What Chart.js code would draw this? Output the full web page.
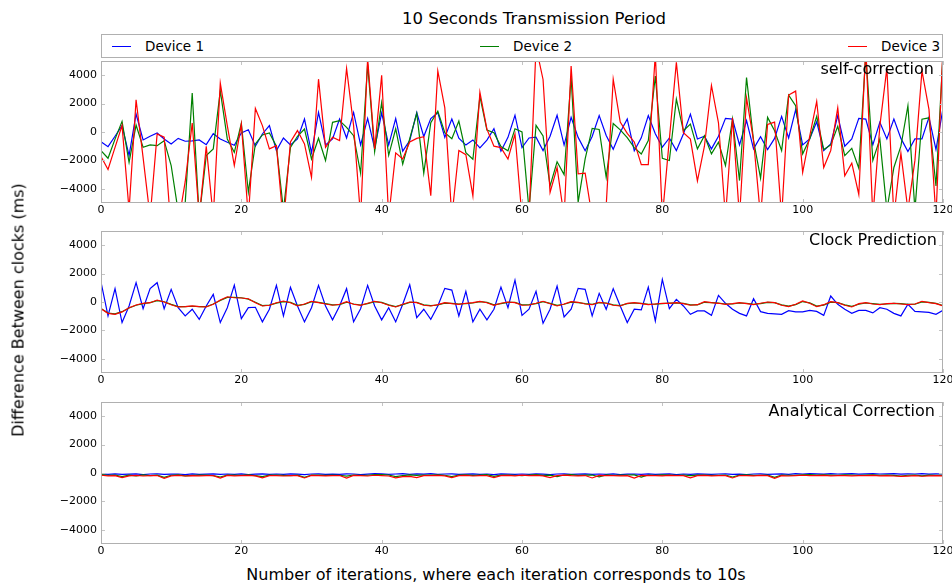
<!DOCTYPE html>
<html>
<head>
<meta charset="utf-8">
<script src="https://cdn.jsdelivr.net/npm/chart.js@4.4.1/dist/chart.umd.min.js"></script>
<style>
  body { margin: 0; background: #fff; }
  #page { position: relative; width: 952px; height: 586px; font-family: "DejaVu Sans", sans-serif; color: #000; overflow: hidden; }
  canvas { position: absolute; left: 0; }
  .txt { position: absolute; white-space: nowrap; }
  #title { left: 0; width: 1068px; text-align: center; top: 9px; font-size: 16.5px; }
  #legend { position: absolute; left: 101px; top: 34px; width: 840px; height: 22px; border: 1px solid #b0b0b0; }
  .item { position: absolute; top: 3px; font-size: 13.5px; line-height: 16px; }
  .item i { display: inline-block; width: 19px; height: 0; border-top: 1.2px solid; vertical-align: middle; margin-right: 14px; position: relative; top: -1px; }
  .panel-label { position: absolute; font-size: 16px; line-height: 18px; text-align: right; }
  #ylab { font-size: 16px; left: 18px; top: 310px; transform: translate(-50%, -50%) rotate(-90deg); }
  #xlab { font-size: 16px; left: 0; width: 992px; text-align: center; top: 565px; }
</style>
</head>
<body>
<div id="page">
  <div class="txt" id="title">10 Seconds Transmission Period</div>
  <div id="legend">
    <div class="item" style="left:10px"><i style="color:#0000ff"></i>Device 1</div>
    <div class="item" style="left:378px"><i style="color:#008000"></i>Device 2</div>
    <div class="item" style="left:746px"><i style="color:#ff0000"></i>Device 3</div>
  </div>
  <canvas id="p1" width="952" height="167" style="top:56px"></canvas>
  <canvas id="p2" width="952" height="167" style="top:226px"></canvas>
  <canvas id="p3" width="952" height="167" style="top:397px"></canvas>
  <div class="panel-label" style="right:18px; top:60px">self-correction</div>
  <div class="panel-label" style="right:15px; top:231px">Clock Prediction</div>
  <div class="panel-label" style="right:17px; top:402px">Analytical Correction</div>
  <div class="txt" id="ylab">Difference Between clocks (ms)</div>
  <div class="txt" id="xlab">Number of iterations, where each iteration corresponds to 10s</div>
</div>
<script>
// iteration index 0..120
const iterations = Array.from({length: 121}, (_, i) => i);
const xTicks = [0, 20, 40, 60, 80, 100, 120];
const yTicks = [-4000, -2000, 0, 2000, 4000];
const deviceNames = ['Device 1', 'Device 2', 'Device 3'];
const deviceColors = ['#0000ff', '#008000', '#ff0000'];

// self-correction
const selfDev1 = [-680,-1030,-300,450,-1660,1260,-560,-300,-70,-490,-840,-450,-650,-630,-560,-890,-120,-490,-720,-930,-70,160,-1000,-140,450,-1310,-420,-910,-490,910,-1470,
  1380,-910,-490,910,-420,1380,-910,960,-1150,1340,-920,950,-1350,-600,1370,-320,950,1370,-380,920,-440,-920,-560,-1120,-570,240,-1350,-380,1180,-1100,
  -420,-370,-1310,-300,1180,-920,1040,-380,-1320,-320,1160,-240,-1220,-20,920,-1320,-410,1160,-120,-1060,-420,-1310,-140,1260,-490,-300,-1190,-300,960,910,
  -910,800,-1190,-330,-1240,-450,1100,-420,1570,-910,-490,720,-1310,-840,1150,-1000,-490,960,910,-910,680,-490,910,-450,-1380,-490,-490,1030,-1240,1660];
const selfDev2 = [-1310,-1850,-500,750,-2130,490,-1080,-910,-960,-610,-2360,-5600,-5000,2740,-6000,-1660,-1190,2900,-490,-1430,610,-4240,-840,-210,-70,-1000,-5500,-1080,-300,210,-1900,
  -440,-2010,680,800,330,-260,-2900,4770,-1380,2070,-1640,230,-2270,-470,1310,-2900,650,1470,-50,-470,770,-1450,-1920,2500,140,-50,-1030,-1330,230,0,
  -5500,470,-280,-3800,-2100,-3000,3850,-4950,-1900,250,180,-3200,600,150,-400,-1100,-1550,-600,3940,-1850,-2010,2320,90,560,-1190,-260,-1540,-725,-2360,910,
  -3420,3840,-610,-3250,1030,90,-1310,2600,1850,-1540,-490,1100,-1240,-910,400,-1660,-1150,-2550,5500,-2000,-500,-5500,-2500,-1000,1850,-5500,900,1000,-3800,5500];
const selfDev3 = [-1730,-2640,-1080,450,-5500,2270,-1800,-6000,-140,-370,-7000,-6500,-3500,630,-6000,-1000,-6000,3440,450,-2360,560,-6000,1660,450,-1190,-960,-6500,-700,100,-840,-3200,
  3720,-1080,-370,-610,4470,450,-6000,5200,-1190,4000,-6000,-1470,-1900,-700,-450,-330,-4480,4300,1700,-6000,-1300,-1600,-4500,2800,200,-1000,-1100,-1900,-140,-6000,
  -6000,6000,3700,-4250,-2500,-6000,4650,-2950,-2900,-6000,-6500,-5200,3720,700,-100,-700,-2300,-2300,5500,-6000,-500,4900,-50,-500,-3440,-1000,3280,650,-6000,1000,
  -6000,2400,-600,-6000,530,700,-6000,2600,2880,-2850,-300,2150,-2500,-1300,1700,-3090,-2200,-4400,6000,-6000,420,4500,-6000,-1500,-5500,-2000,4300,1600,-6000,6000];

// clock prediction
const predDev1 = [1400,-980,940,-1450,-280,1360,-470,940,1360,-470,890,-400,-980,-510,-1220,-280,540,-1450,-400,1190,-1170,-400,-370,-1400,-510,1170,-980,1030,-280,-1400,-400,
  1170,-280,-1260,-280,940,-1400,-470,1170,-280,-1260,-400,-1400,-160,1220,-1100,-510,-1220,-280,960,840,-980,750,-1400,-510,-1260,-510,1050,-400,1540,-940,
  -510,750,-1500,-510,1120,-1050,-510,960,890,-980,610,-510,940,-280,-1450,-510,-560,1050,-1330,1590,-470,190,-280,-870,-630,-630,-940,470,-90,-510,
  -800,-980,230,-680,-800,-840,-870,-610,-700,-700,-590,-660,-940,420,-160,-510,-800,-590,-590,-770,-400,-510,-800,-980,-160,-660,-700,-730,-870,-590];
const predDev2 = [-450,-780,-840,-680,-420,-230,-120,-40,100,20,-170,-320,-320,-300,-320,-330,-140,110,320,330,300,200,-20,-250,-220,-80,30,-30,-240,-170,20,
  -30,-120,-200,-180,-20,-140,-210,-110,20,-30,-200,-320,-190,-30,-30,-200,-260,-210,-80,-100,-140,-110,-70,20,-30,-200,-120,-30,-30,-200,
  -180,-110,20,-100,-240,-160,-10,-40,-120,-170,-50,-70,-200,-250,-120,-70,-100,-160,-150,-110,-80,-70,-100,-200,-200,-20,-40,-80,-140,-140,
  -70,-100,-160,-120,-30,-40,-200,-290,-190,30,-60,-290,-220,-10,-40,-200,-310,-160,-70,-120,-170,-140,-100,-120,-170,-160,10,-30,-100,-250];
const predDev3 = [-470,-800,-870,-700,-400,-210,-90,-50,140,0,-190,-350,-330,-280,-330,-350,-160,140,370,300,280,230,-50,-280,-230,-50,70,-50,-280,-140,50,
  -50,-140,-230,-160,20,-160,-230,-90,50,-50,-230,-350,-160,0,-50,-230,-280,-190,-50,-120,-160,-90,-50,50,-50,-230,-90,0,-50,-230,
  -210,-90,50,-120,-280,-140,20,-20,-140,-190,-20,-90,-230,-280,-90,-50,-120,-190,-140,-90,-90,-50,-120,-230,-190,20,-50,-90,-160,-120,
  -50,-120,-190,-90,0,-50,-230,-330,-160,70,-90,-330,-190,20,-50,-230,-350,-120,-50,-140,-190,-120,-90,-140,-190,-140,50,-50,-120,-280];

// analytical correction
const anaDev1 = [-70,-90,-60,-100,-80,-60,-110,-70,-60,-100,-80,-70,-110,-60,-90,-80,-60,-100,-70,-90,-60,-110,-80,-60,-90,-70,-100,-60,-80,-110,-70,
  -60,-90,-80,-100,-60,-70,-110,-80,-40,-60,-90,-70,-50,-100,-60,-80,-50,-90,-70,-60,-100,-80,-60,-90,-70,-110,-60,-80,-90,-70,
  -100,-60,-80,-110,-70,-60,-90,-80,-60,-100,-70,-90,-60,-110,-80,-70,-90,-60,-100,-80,-60,-110,-70,-90,-60,-80,-100,-70,-60,-90,
  -80,-110,-70,-60,-100,-80,-60,-90,-50,-70,-40,-60,-80,-50,-70,-60,-40,-80,-60,-50,-70,-60,-40,-80,-60,-70,-50,-80,-60,-70];
const anaDev2 = [-120,-160,-140,-250,-150,-200,-130,-180,-150,-300,-160,-130,-200,-170,-150,-140,-190,-280,-150,-140,-170,-130,-180,-260,-150,-140,-170,-190,-150,-300,-140,
  -150,-170,-140,-160,-220,-140,-170,-160,-110,-120,-140,-260,-180,-130,-170,-140,-150,-130,-160,-250,-140,-130,-170,-150,-120,-240,-150,-140,-160,-190,
  -140,-120,-170,-150,-250,-140,-120,-170,-150,-140,-270,-130,-160,-150,-140,-130,-290,-140,-160,-130,-150,-170,-140,-190,-150,-140,-170,-160,-140,-280,
  -150,-130,-170,-160,-140,-300,-140,-160,-170,-130,-120,-140,-130,-150,-160,-130,-140,-170,-150,-130,-160,-140,-170,-210,-160,-140,-200,-150,-160,-170];
const anaDev3 = [-160,-200,-190,-330,-200,-170,-210,-190,-180,-370,-200,-170,-210,-190,-200,-180,-190,-360,-170,-200,-190,-170,-200,-340,-180,-190,-210,-180,-190,-350,-170,
  -180,-200,-190,-180,-360,-170,-190,-210,-160,-180,-210,-340,-250,-240,-330,-180,-190,-170,-200,-330,-180,-170,-210,-190,-180,-320,-190,-170,-200,-150,
  -190,-170,-200,-330,-180,-150,-190,-200,-180,-350,-170,-190,-180,-200,-190,-360,-170,-180,-190,-200,-170,-190,-180,-340,-190,-170,-200,-180,-190,-350,
  -180,-190,-200,-170,-190,-370,-190,-210,-180,-160,-180,-190,-170,-200,-180,-190,-200,-180,-190,-170,-200,-190,-210,-240,-220,-190,-230,-200,-180,-200];

const tickFont = { family: 'DejaVu Sans', size: 11 };

// draws the light grey box and the small inward tick marks
const frame = {
  id: 'frame',
  afterDatasetsDraw(chart) {
    const { ctx, chartArea: a, scales } = chart;
    ctx.save();
    ctx.strokeStyle = '#c4c4c4';
    ctx.lineWidth = 1;
    ctx.beginPath();
    xTicks.forEach(v => {
      const x = Math.round(scales.x.getPixelForValue(v)) + 0.5;
      ctx.moveTo(x, a.bottom); ctx.lineTo(x, a.bottom - 4);
      ctx.moveTo(x, a.top); ctx.lineTo(x, a.top + 4);
    });
    yTicks.forEach(v => {
      const y = Math.round(scales.y.getPixelForValue(v)) + 0.5;
      ctx.moveTo(a.left, y); ctx.lineTo(a.left + 4, y);
      ctx.moveTo(a.right, y); ctx.lineTo(a.right - 4, y);
    });
    ctx.stroke();
    ctx.strokeStyle = '#b0b0b0';
    ctx.strokeRect(a.left + 0.5, a.top + 0.5, a.width - 1, a.height - 1);
    ctx.restore();
  }
};

function makePanel(id, series) {
  const datasets = series.map((vals, i) => ({
    label: deviceNames[i],
    data: iterations.map((it, k) => ({ x: it, y: vals[k] })),
    borderColor: deviceColors[i],
    borderWidth: 1.2,
    pointRadius: 0,
    tension: 0,
    order: 3 - i
  }));
  return new Chart(document.getElementById(id), {
    type: 'line',
    data: { datasets: datasets },
    options: {
      responsive: false,
      animation: false,
      layout: { padding: { left: 0, right: 9, top: 5, bottom: 0 } },
      plugins: { legend: { display: false }, tooltip: { enabled: false } },
      scales: {
        x: {
          type: 'linear', min: 0, max: 120,
          afterBuildTicks: s => { s.ticks = xTicks.map(v => ({ value: v })); },
          afterFit: s => { s.height = 20; s.paddingLeft = 0; s.paddingRight = 0; },
          grid: { display: false, drawTicks: false },
          border: { display: false },
          ticks: { font: tickFont, color: '#000', padding: 1, maxRotation: 0 }
        },
        y: {
          min: -5000, max: 5000,
          afterBuildTicks: s => { s.ticks = yTicks.map(v => ({ value: v })); },
          afterFit: s => { s.width = 101; s.paddingTop = 0; s.paddingBottom = 0; },
          grid: { display: false, drawTicks: false },
          border: { display: false },
          ticks: { font: tickFont, color: '#000', padding: 4,
            callback: v => v < 0 ? '\u2212' + Math.abs(v) : String(v) }
        }
      }
    },
    plugins: [frame]
  });
}

makePanel('p1', [selfDev1, selfDev2, selfDev3]);
makePanel('p2', [predDev1, predDev2, predDev3]);
makePanel('p3', [anaDev1, anaDev2, anaDev3]);
</script>
</body>
</html>
